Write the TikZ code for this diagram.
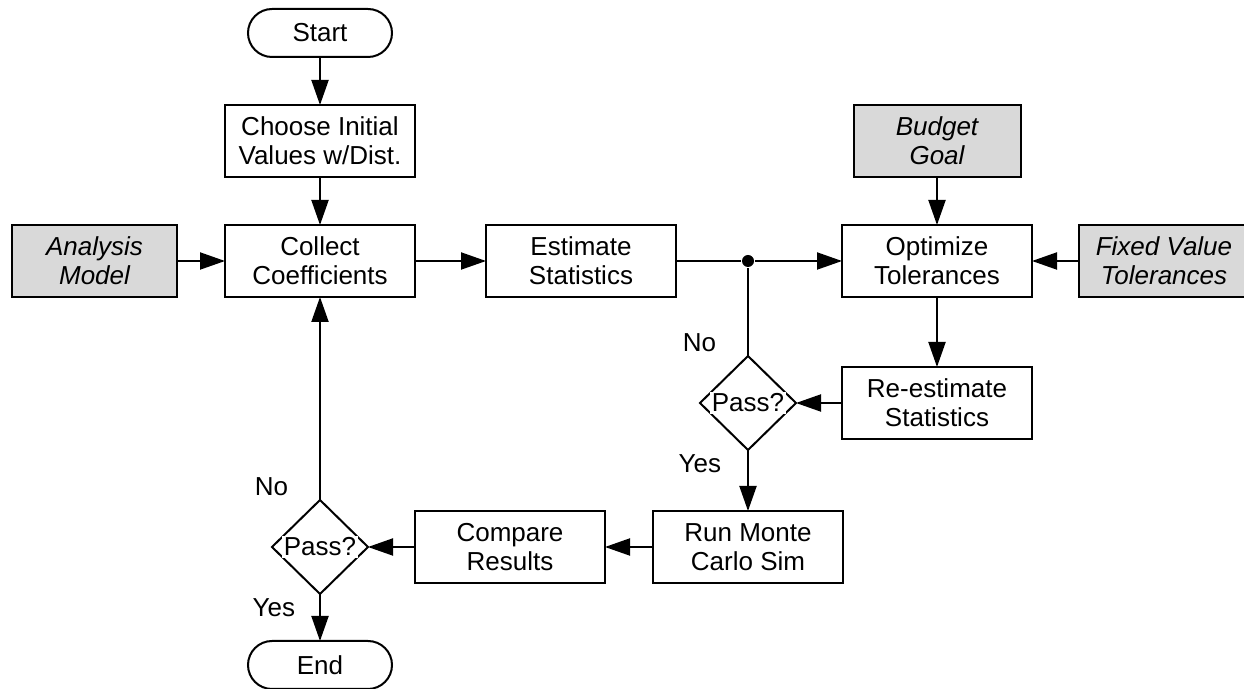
\documentclass[tikz,border=0pt]{standalone}
\usepackage{fontspec}
\setmainfont{Liberation Sans}
\usetikzlibrary{arrows.meta,positioning,shapes.geometric}

\begin{document}
\begin{tikzpicture}[font=\fontsize{13}{14.5}\selectfont,>={Triangle[length=12.5pt,width=8.5pt]},line width=1pt,
 process/.style={draw,minimum width=95pt,minimum height=36pt,inner sep=1pt,outer sep=0pt,align=center},
 source/.style={process,fill=black!15,font=\fontsize{13}{14.5}\selectfont\itshape},
 terminal/.style={draw,rounded corners=12pt,minimum width=72pt,minimum height=24pt,inner sep=1pt,outer sep=0pt},
 decision/.style={draw,diamond,minimum width=48pt,minimum height=47pt,inner sep=0pt,outer sep=0pt,
   label={[fill=white,inner sep=1pt]center:Pass?}},
 joint/.style={circle,fill,inner sep=0pt,minimum size=6pt},
 tag/.style={inner sep=0pt}, flow/.style={->}]
\useasboundingbox (0,0) rectangle (622pt,-344.5pt);
\node[process] (collect) at (160pt,-130.5pt) {Collect\\Coefficients};
\node[process,above=24pt of collect] (choose) {Choose Initial\\Values w/Dist.};
\node[terminal,above=24pt of choose] (start) {Start};
\node[source,minimum width=82.5pt,left=24pt of collect] (model) {Analysis\\Model};
\node[process,right=35.5pt of collect] (estimate) {Estimate\\Statistics};
\node[process,right=83pt of estimate] (optimize) {Optimize\\Tolerances};
\node[source,minimum width=83.5pt,above=24pt of optimize] (budget) {Budget\\Goal};
\node[source,minimum width=85pt,right=23.5pt of optimize] (fixed) {Fixed Value\\Tolerances};
\node[process,below=35pt of optimize] (reestimate) {Re-estimate\\Statistics};
\node[decision,left=23pt of reestimate] (check1) {};
\node[joint] (split) at (check1 |- estimate) {};
\node[process,below=30.5pt of check1] (montecarlo) {Run Monte\\Carlo Sim};
\node[process,left=24pt of montecarlo] (compare) {Compare\\Results};
\node[decision] (check2) at (collect |- compare) {};
\node[terminal,below=23.5pt of check2] (finish) {End};
% branch labels
\node[tag,above left=1.75pt and 15.5pt of check1.north] (no1) {No};
\node[tag,below left=2pt and 13pt of check1.south] (yes1) {Yes};
\node[tag,above left=1.5pt and 15.5pt of check2.north] (no2) {No};
\node[tag,below left=2pt and 12pt of check2.south] (yes2) {Yes};
\foreach \a/\b in {start/choose,choose/collect,model/collect,collect/estimate,split/optimize,budget/optimize,fixed/optimize,optimize/reestimate,reestimate/check1,check1/montecarlo,montecarlo/compare,compare/check2,check2/collect,check2/finish}
  \draw[flow] (\a) -- (\b);
\draw (estimate) -- (split);
\draw (check1) -- (split);
\end{tikzpicture}
\end{document}
